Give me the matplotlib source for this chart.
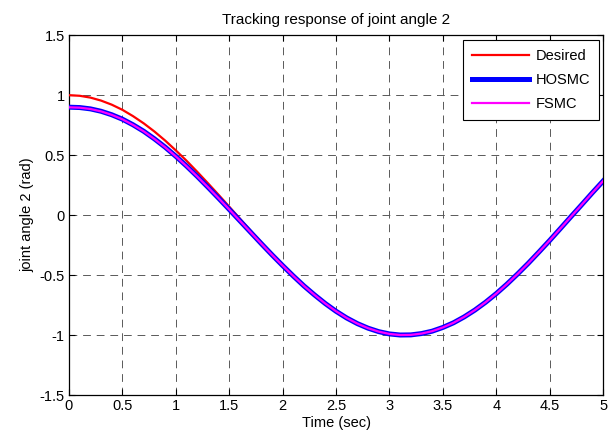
import numpy as np
import matplotlib
matplotlib.use('Agg')
import matplotlib.pyplot as plt

plt.rcParams['font.family'] = ['Liberation Sans', 'DejaVu Sans']

t = [0.0, 0.1, 0.2, 0.3, 0.4, 0.5, 0.6, 0.7, 0.8, 0.9,
     1.0, 1.1, 1.2, 1.3, 1.4, 1.5, 1.6, 1.7, 1.8, 1.9,
     2.0, 2.1, 2.2, 2.3, 2.4, 2.5, 2.6, 2.7, 2.8, 2.9,
     3.0, 3.1, 3.2, 3.3, 3.4, 3.5, 3.6, 3.7, 3.8, 3.9,
     4.0, 4.1, 4.2, 4.3, 4.4, 4.5, 4.6, 4.7, 4.8, 4.9, 5.0]

desired = [1.000, 0.995, 0.980, 0.955, 0.921, 0.878, 0.825, 0.765, 0.697, 0.622,
           0.540, 0.454, 0.362, 0.267, 0.170, 0.071, -0.029, -0.129, -0.227, -0.323,
           -0.416, -0.505, -0.589, -0.666, -0.737, -0.801, -0.857, -0.904, -0.942, -0.971,
           -0.990, -0.999, -0.998, -0.987, -0.967, -0.936, -0.897, -0.848, -0.791, -0.726,
           -0.654, -0.575, -0.490, -0.401, -0.307, -0.211, -0.112, -0.012, 0.087, 0.187, 0.284]

hosmc = [0.900, 0.897, 0.886, 0.866, 0.837, 0.800, 0.753, 0.699, 0.636, 0.567,
         0.491, 0.410, 0.324, 0.234, 0.142, 0.048, -0.047, -0.142, -0.237, -0.330,
         -0.420, -0.507, -0.590, -0.666, -0.737, -0.801, -0.857, -0.904, -0.942, -0.971,
         -0.990, -0.999, -0.998, -0.987, -0.967, -0.936, -0.897, -0.848, -0.791, -0.726,
         -0.654, -0.575, -0.490, -0.401, -0.307, -0.211, -0.112, -0.012, 0.087, 0.187, 0.284]

fsmc = [0.899, 0.896, 0.885, 0.865, 0.836, 0.799, 0.752, 0.698, 0.635, 0.566,
        0.490, 0.409, 0.323, 0.234, 0.142, 0.048, -0.047, -0.142, -0.237, -0.330,
        -0.420, -0.507, -0.590, -0.666, -0.737, -0.801, -0.857, -0.904, -0.942, -0.971,
        -0.990, -0.999, -0.998, -0.987, -0.967, -0.936, -0.897, -0.848, -0.791, -0.726,
        -0.654, -0.575, -0.490, -0.401, -0.307, -0.211, -0.112, -0.012, 0.087, 0.187, 0.284]

xticks = [0, 0.5, 1, 1.5, 2, 2.5, 3, 3.5, 4, 4.5, 5]
yticks = [-1.5, -1, -0.5, 0, 0.5, 1, 1.5]

fs = 10.5

fig = plt.figure(figsize=(6.16, 4.4), dpi=100)
ax = fig.add_axes([0.112, 0.102, 0.867, 0.818])

ax.plot(t, desired, color='red', lw=1.6, label='Desired', zorder=3)
ax.plot(t, hosmc, color='blue', lw=3.6, label='HOSMC', zorder=4)
ax.plot(t, fsmc, color='magenta', lw=1.6, label='FSMC', zorder=5)

ax.set_xlim(0, 5)
ax.set_ylim(-1.5, 1.5)
ax.set_xticks(xticks)
ax.set_xticklabels(['0', '0.5', '1', '1.5', '2', '2.5', '3', '3.5', '4', '4.5', '5'])
ax.set_yticks(yticks)
ax.set_yticklabels(['-1.5', '-1', '-0.5', '0', '0.5', '1', '1.5'])
ax.tick_params(direction='in', top=True, right=True, length=4, width=0.8,
               labelsize=fs, pad=3, colors='black')
ax.grid(True, color='0.35', linestyle=(0, (8, 6)), linewidth=0.7)
for s in ax.spines.values():
    s.set_linewidth(0.9)
    s.set_color('black')

ax.set_xlabel('Time (sec)', fontsize=fs, labelpad=2)
ax.set_ylabel('joint angle 2 (rad)', fontsize=fs, labelpad=4)
ax.set_title('Tracking response of joint angle 2', fontsize=11, pad=8)

leg = ax.legend(loc='upper right', bbox_to_anchor=(0.9925, 0.986), fancybox=False,
                shadow=False, framealpha=1, edgecolor='black', fontsize=fs,
                handlelength=3.9, labelspacing=0.7, borderpad=0.6, handletextpad=0.5,
                borderaxespad=0)
leg.get_frame().set_linewidth(0.8)

fig.savefig('out.png', dpi=100)
